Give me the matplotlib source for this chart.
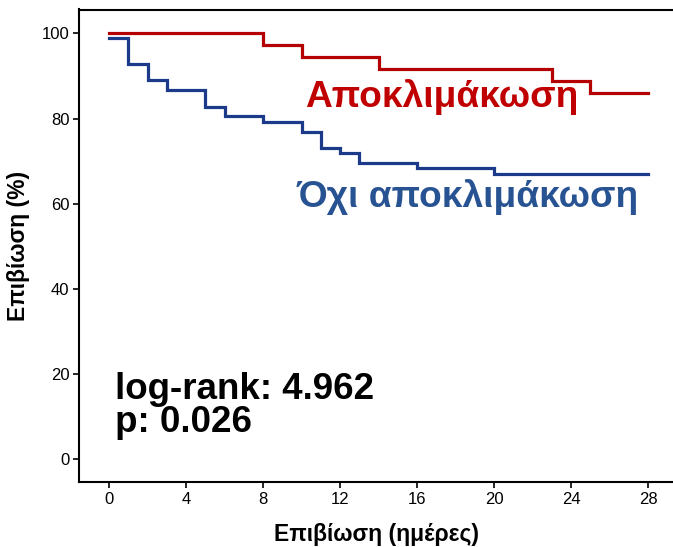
import matplotlib.pyplot as plt

# Kaplan-Meier step curves (day, survival %)
deesc_days = [0, 8, 10, 14, 23, 25, 28]
deesc_surv = [100.0, 97.2, 94.4, 91.7, 88.9, 86.1, 86.1]

no_deesc_days = [0, 1, 2, 3, 5, 6, 8, 10, 11, 12, 13, 16, 20, 28]
no_deesc_surv = [98.8, 92.7, 89.0, 86.6, 82.7, 80.5, 79.3, 76.8, 73.2, 72.0, 69.5, 68.3, 67.1, 67.1]

x_ticks = [0, 4, 8, 12, 16, 20, 24, 28]
y_ticks = [0, 20, 40, 60, 80, 100]

RED = "#b40000"
BLUE = "#1b3a8a"
RED_TXT = "#c00000"
BLUE_TXT = "#285392"

W, H = 673, 547

plt.rcParams["font.family"] = ["Liberation Sans", "DejaVu Sans"]

fig = plt.figure(figsize=(W / 100, H / 100), dpi=100)
ax = fig.add_axes([79 / W, 1 - 482 / H, (W - 79) / W, (482 - 9.5) / H])

ax.step(deesc_days, deesc_surv, where="post", color=RED, linewidth=2.3, solid_joinstyle="miter")
ax.step(no_deesc_days, no_deesc_surv, where="post", color=BLUE, linewidth=2.3, solid_joinstyle="miter")

ax.set_xlim(-1.56, 29.3)
ax.set_ylim(-5.3, 105.6)
ax.set_xticks(x_ticks)
ax.set_yticks(y_ticks)
ax.tick_params(direction="out", length=4, width=1.2, labelsize=12, pad=3)

for side in ["left", "bottom", "top"]:
    ax.spines[side].set_linewidth(1.5)
ax.spines["right"].set_visible(False)

ax.set_xlabel("Επιβίωση (ημέρες)", fontsize=16.5, fontweight="bold", labelpad=12)
ax.set_ylabel("Επιβίωση (%)", fontsize=16.5, fontweight="bold", labelpad=8)


def px_text(x, y, s, **kw):
    # place text by pixel position from the top-left corner (baseline)
    fig.text(x / W, 1 - y / H, s, ha="left", va="baseline", fontweight="bold", **kw)


px_text(305, 107, "Αποκλιμάκωση", color=RED_TXT, fontsize=26.7)
px_text(297, 207, "Όχι αποκλιμάκωση", color=BLUE_TXT, fontsize=26.7)
px_text(115, 399, "log-rank: 4.962", color="black", fontsize=26.5)
px_text(115, 432, "p: 0.026", color="black", fontsize=26.5)

fig.savefig("out.png", dpi=100)
